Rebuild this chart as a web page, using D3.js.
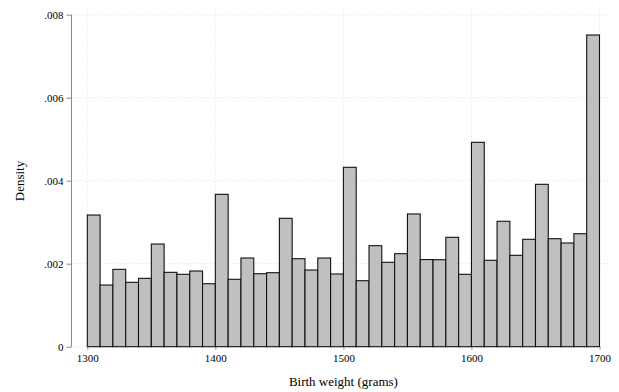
<!DOCTYPE html>
<html><head><meta charset="utf-8">
<script src="https://cdn.jsdelivr.net/npm/d3@7"></script>
<style>body{margin:0;background:#fff}svg{display:block}text{font-family:"Liberation Serif","Times New Roman",serif;fill:#000}</style>
</head><body><svg id="c" width="619" height="392"></svg>
<script>
const binStart = 1300, binWidth = 10;
const densities = [
 .003173,.001486,.001864,.001551,.001647,.002474,.001792,.001744,.001824,.001518,
 .003672,.001624,.002137,.001759,.001783,.003094,.002120,.001848,.002137,.001752,
 .004323,.001590,.002434,.002034,.002241,.003198,.002100,.002096,.002636,.001744,
 .004925,.002082,.003022,.002202,.002588,.003913,.002602,.002499,.002723,.007511];
const xTicks = [1300,1400,1500,1600,1700];
const yTicks = [0,.002,.004,.006,.008];
const yTickLabels = ["0",".002",".004",".006",".008"];
const xTitle = "Birth weight (grams)";
const yTitle = "Density";

const bins = densities.map((d,i)=>({x0:binStart+i*binWidth, x1:binStart+(i+1)*binWidth, d}));
const svg = d3.select("#c");
const x = d3.scaleLinear().domain([1300,1700]).range([87.3,599.5]);
const y = d3.scaleLinear().domain([0,.008]).range([346.7,14.7]);

// grid
const g = svg.append("g");
g.selectAll("line.h").data(yTicks).join("line")
 .attr("x1",72).attr("x2",608).attr("y1",d=>y(d)).attr("y2",d=>y(d))
 .attr("stroke","#d4d4d4").attr("stroke-width",0.8).attr("stroke-dasharray","1,2.2");
g.selectAll("line.v").data(xTicks).join("line")
 .attr("x1",d=>x(d)).attr("x2",d=>x(d)).attr("y1",5).attr("y2",y(0))
 .attr("stroke","#d4d4d4").attr("stroke-width",0.8).attr("stroke-dasharray","1,2.2");

// bars
svg.append("g").selectAll("rect").data(bins).join("rect")
 .attr("x",d=>x(d.x0)).attr("width",d=>x(d.x1)-x(d.x0))
 .attr("y",d=>y(d.d)).attr("height",d=>y(0)-y(d.d))
 .attr("fill","#c0c0c0").attr("stroke","#111").attr("stroke-width",1.1);

// y axis
const ya = svg.append("g").attr("transform","translate(71.5,0)").attr("font-family",null)
 .call(d3.axisLeft(y).tickValues(yTicks).tickFormat((d,i)=>yTickLabels[i]).tickSize(5).tickPadding(3));
ya.attr("font-family","Liberation Serif").attr("font-size",11);
ya.select(".domain").attr("stroke","#888").attr("d",`M-0,${y(.008)}V${y(0)}`);
ya.selectAll(".tick line").attr("stroke","#888");
ya.selectAll("text").attr("fill","#000");

// x axis
const xa = svg.append("g").attr("transform",`translate(0,${y(0)})`)
 .call(d3.axisBottom(x).tickValues(xTicks).tickFormat(d3.format("d")).tickSize(3).tickPadding(5));
xa.attr("font-family","Liberation Serif").attr("font-size",11);
xa.select(".domain").remove();
xa.selectAll(".tick line").attr("stroke","#888");
xa.selectAll("text").attr("fill","#000");

svg.append("text").attr("x",x(1500)).attr("y",386).attr("text-anchor","middle")
 .style("font-size","13px").text(xTitle);
svg.append("text").attr("transform","translate(24,181) rotate(-90)").attr("text-anchor","middle")
 .style("font-size","13px").text(yTitle);
</script></body></html>
